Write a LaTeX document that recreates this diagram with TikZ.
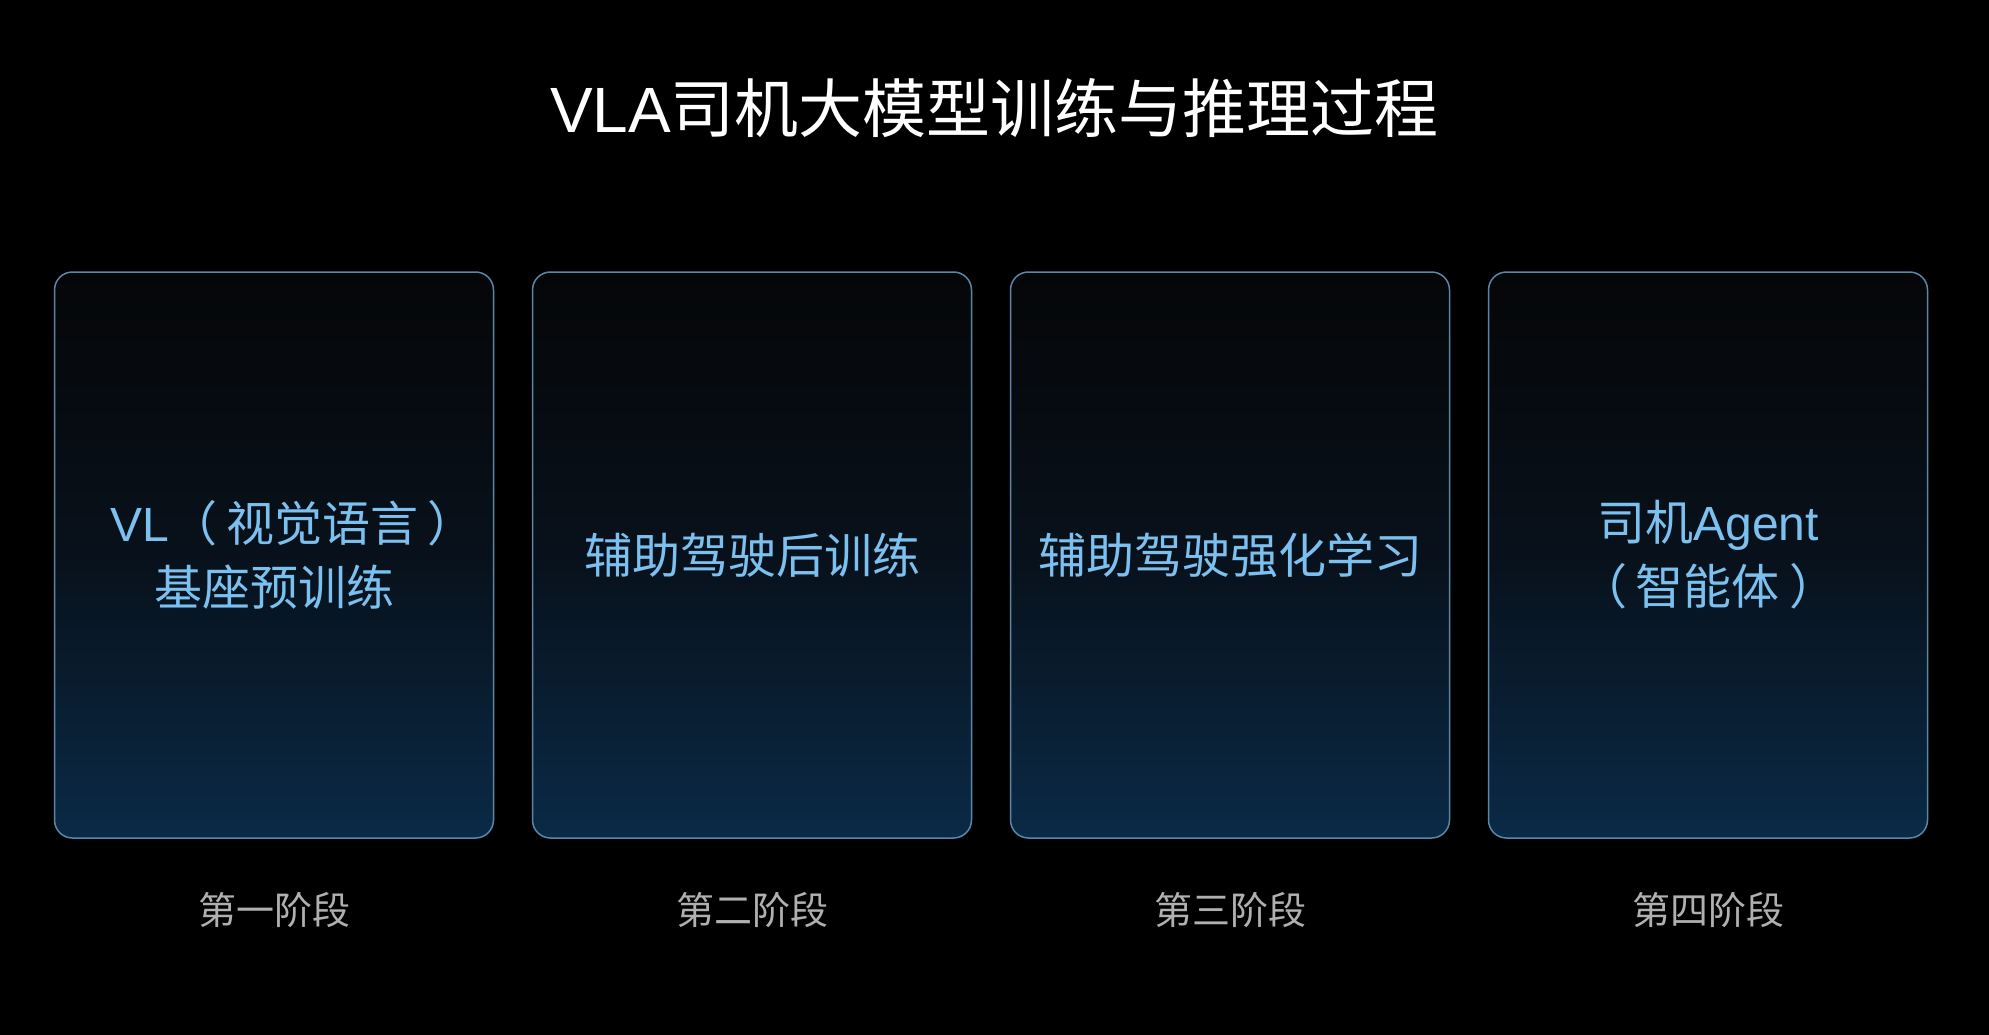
\documentclass[tikz,border=0pt]{standalone}
\usepackage{fontspec}
\setmainfont{Noto Sans CJK SC}
\newfontfamily\latin{Liberation Sans}
\usetikzlibrary{positioning}
\definecolor{boxline}{HTML}{5A86A8}
\definecolor{boxtop}{HTML}{050608}
\definecolor{boxmid}{HTML}{08111B}
\definecolor{boxbottom}{HTML}{0A2A46}
\definecolor{boxtext}{HTML}{7BC0EE}
\definecolor{stagegray}{HTML}{B0B0B0}
\tikzset{
  titletext/.style={text=white, font=\fontsize{64}{70}\selectfont},
  stagebox/.style={draw=boxline, line width=1.5pt, rounded corners=18pt,
    minimum width=439pt, minimum height=566pt,
    top color=boxtop, bottom color=boxbottom, middle color=boxmid,
    text=boxtext, align=center, font=\fontsize{48}{64}\selectfont},
  stagelabel/.style={text=stagegray, inner sep=0pt, font=\fontsize{38}{40}\selectfont}
}
\begin{document}
\begin{tikzpicture}[x=1pt,y=-1pt]
\fill[black] (0,0) rectangle (1989,1035);
\node[titletext] (title) at (994.5,108) {{\latin VLA}司机大模型训练与推理过程};
\node[stagebox] (box1) at (274,555)
  {\hspace*{38pt}{\latin VL}（\hspace{9pt}视觉语言\hspace{9pt}）\\基座预训练};
\node[stagebox, right=37.5pt of box1] (box2) {辅助驾驶后训练};
\node[stagebox, right=37.5pt of box2] (box3) {辅助驾驶强化学习};
\node[stagebox, right=37.5pt of box3] (box4)
  {司机{\latin Agent}\\（\hspace{9pt}智能体\hspace{9pt}）};
\foreach \i/\lab in {1/第一阶段,2/第二阶段,3/第三阶段,4/第四阶段}
  \node[stagelabel, below=53pt of box\i] (stage\i) {\lab};
\end{tikzpicture}
\end{document}
